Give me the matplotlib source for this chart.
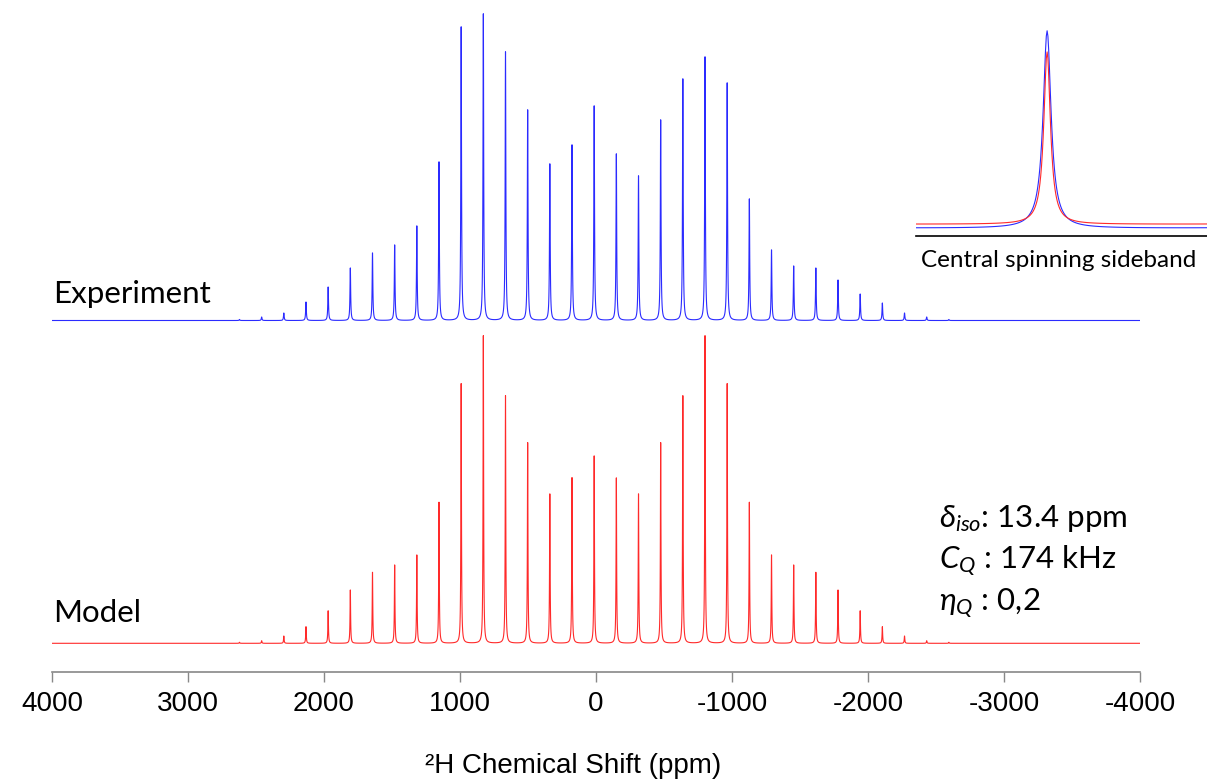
import numpy as np
import matplotlib
matplotlib.use("Agg")
import matplotlib.pyplot as plt

plt.rcParams['path.simplify'] = False
plt.rcParams['axes.unicode_minus'] = False
plt.rcParams['mathtext.fontset'] = 'custom'
plt.rcParams['mathtext.rm'] = 'Lato'
plt.rcParams['mathtext.it'] = 'Lato:italic'
plt.rcParams['mathtext.fallback'] = 'stixsans'

# spinning sideband orders, from +16 down to -16
orders = np.arange(16, -17, -1)

# sideband intensities (a.u.)
exp_int = [1.0, 3.5, 7.5, 18.5, 33.5, 52.5, 67.5, 75.5, 94.5, 158.5, 293.5,
           306.5, 268.5, 210.5, 156.5, 175.5, 214.5, 166.5, 144.5, 200.5,
           241.5, 263.5, 237.5, 121.5, 70.5, 54.5, 52.5, 40.5, 26.5, 17.5,
           7.5, 3.5, 1.0]
model_int = [1.0, 2.6, 7.3, 16.6, 32.5, 53.3, 71.0, 78.3, 88.3, 141.0, 259.6,
             307.5, 247.5, 200.6, 149.3, 165.6, 187.3, 165.3, 149.3, 200.6,
             247.5, 307.5, 259.6, 141.0, 88.3, 78.3, 71.0, 53.3, 32.5, 16.6,
             7.3, 2.6, 1.0]

delta_iso = 13.4      # ppm
spin_ppm = 163.0      # sideband spacing, ppm
fwhm_exp = 6.0
fwhm_model = 5.0

exp_base = 351.5
model_base = 28.7

x = delta_iso + np.arange(-4100.0, 4100.0, 0.5)


def spectrum(heights, fwhm):
    hw2 = (fwhm / 2.0) ** 2
    y = np.zeros_like(x)
    for n, h in zip(orders, heights):
        c = delta_iso + n * spin_ppm
        y += h * hw2 / ((x - c) ** 2 + hw2)
    return y


y_exp = spectrum(exp_int, fwhm_exp)
y_model = spectrum(model_int, fwhm_model)

blue = '#2b2bff'
red = '#ff2a2a'

fig = plt.figure(figsize=(12.07, 7.8), dpi=100)
ax = fig.add_axes([52 / 1207, 1 - 672 / 780, 1088 / 1207, 672 / 780])
ax.plot(x, y_exp + exp_base, color=blue, lw=0.8)
ax.plot(x, y_model + model_base, color=red, lw=0.8)
ax.set_xlim(4000, -4000)
ax.set_ylim(0, 672)
for s in ['top', 'left', 'right']:
    ax.spines[s].set_visible(False)
ax.spines['bottom'].set_color('#888888')
ax.spines['bottom'].set_linewidth(1.2)
ax.set_yticks([])
ax.set_xticks(np.arange(4000, -4001, -1000))
ax.tick_params(axis='x', direction='out', length=7.5, width=1.0, color='#888888',
               pad=6.5, labelsize=20)
for lab in ax.get_xticklabels():
    lab.set_family('Liberation Sans')

fig.text(573 / 1207, 1 - 773 / 780, '²H Chemical Shift (ppm)', ha='center',
         va='baseline', fontsize=20, family='Liberation Sans')

fig.text(53 / 1207, 1 - 303 / 780, 'Experiment', fontsize=22.5, family='Lato',
         va='baseline')
fig.text(53 / 1207, 1 - 622 / 780, 'Model', fontsize=22.5, family='Lato',
         va='baseline')

fig.text(939 / 1207, 1 - 527 / 780, r'$\delta_{iso}$: 13.4 ppm', fontsize=22.5,
         family='Lato', va='baseline')
fig.text(939 / 1207, 1 - 568 / 780, r'$C_Q$ : 174 kHz', fontsize=22.5,
         family='Lato', va='baseline')
fig.text(939 / 1207, 1 - 610 / 780, r'$\eta_Q$ : 0,2', fontsize=22.5,
         family='Lato', va='baseline')

# inset: central spinning sideband
ins = fig.add_axes([916 / 1207, 1 - 235.7 / 780, 291 / 1207, 215.7 / 780])
ins.plot(x, y_exp, color=blue, lw=0.8)
ins.plot(x, y_model + 4.3, color=red, lw=0.8)
ins.set_xlim(delta_iso + 82, delta_iso - 100)
ins.set_ylim(-8.0, 226.4)
for s in ['top', 'left', 'right']:
    ins.spines[s].set_visible(False)
ins.spines['bottom'].set_color('black')
ins.spines['bottom'].set_linewidth(1.2)
ins.set_xticks([])
ins.set_yticks([])
ins.patch.set_alpha(0)

fig.text(1058.7 / 1207, 1 - 267 / 780, 'Central spinning sideband', ha='center',
         va='baseline', fontsize=17.5, family='Lato')

fig.savefig('out.png', dpi=100)
